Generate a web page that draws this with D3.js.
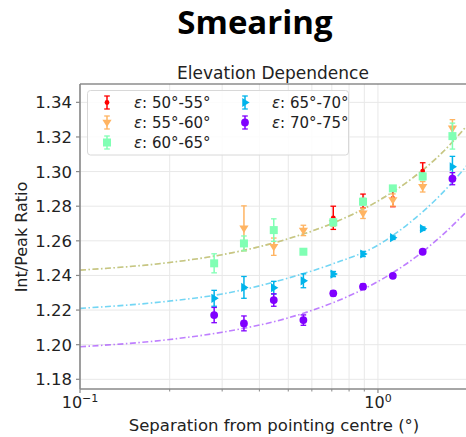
<!DOCTYPE html>
<html lang="en">
<head>
  <meta charset="UTF-8">
  <title>Smearing - Elevation Dependence</title>
  <script src="https://d3js.org/d3.v7.min.js"></script>
  <style>
    body {
      margin: 0;
      padding: 0;
      background: #fff;
    }
    svg {
      display: block;
      font-family: "DejaVu Sans", sans-serif;
    }
    .grid line {
      stroke: #e8e8e8;
      stroke-width: 1;
    }
  </style>
</head>
<body>
  <svg width="466" height="437"></svg>

  <script>
    // separation from pointing centre (deg), one column per bin
    const separation = [0.282, 0.355, 0.447, 0.562, 0.708, 0.891, 1.122, 1.413, 1.778];

    const seriesNames = ["50°-55°", "55°-60°", "60°-65°", "65°-70°", "70°-75°"];
    const seriesColors = ["#ff0000", "#ffb462", "#80ffb4", "#00b4eb", "#8000ff"];
    const seriesMarkers = ["dot", "triDown", "square", "triRight", "circle"];

    // which separation columns each series has
    const seriesCols = [
      [4, 5, 6, 7],
      [1, 2, 3, 4, 5, 6, 7, 8],
      [0, 1, 2, 3, 4, 5, 6, 7, 8],
      [0, 1, 2, 3, 4, 5, 6, 7, 8],
      [0, 1, 2, 3, 4, 5, 6, 7, 8]
    ];

    const ratio50 = [1.2733, 1.2830, 1.2845, 1.3003];
    const ratio55 = [1.2672, 1.2566, 1.2660, 1.2705, 1.2759, 1.2836, 1.2912, 1.3250];
    const ratio60 = [1.2470, 1.2585, 1.2662, 1.2537, 1.2707, 1.2826, 1.2903, 1.2972, 1.3205];
    const ratio65 = [1.2268, 1.2331, 1.2329, 1.2369, 1.2408, 1.2524, 1.2618, 1.2670, 1.3028];
    const ratio70 = [1.2171, 1.2123, 1.2258, 1.2142, 1.2297, 1.2335, 1.2398, 1.2537, 1.2959];

    const err50 = [0.0067, 0.0040, 0.0048, 0.0048];
    const err55 = [0.0130, 0.0050, 0.0030, 0.0020, 0.0030, 0.0035, 0.0030, 0.0050];
    const err60 = [0.0055, 0.0043, 0.0065, 0.0015, 0.0020, 0.0020, 0.0015, 0.0020, 0.0075];
    const err65 = [0.0046, 0.0063, 0.0037, 0.0040, 0.0015, 0.0015, 0.0010, 0.0010, 0.0060];
    const err70 = [0.0044, 0.0043, 0.0036, 0.0030, 0.0015, 0.0015, 0.0010, 0.0010, 0.0035];

    const ratios = [ratio50, ratio55, ratio60, ratio65, ratio70];
    const errors = [err50, err55, err60, err65, err70];

    // fitted curves at these separations
    const fitSep = [0.1, 0.2, 0.3, 0.5, 0.7, 1.0, 1.3, 1.6, 2.0];
    const fit60 = [1.2431, 1.2475, 1.2520, 1.2612, 1.2700, 1.2830, 1.2960, 1.3090, 1.3270];
    const fit65 = [1.2210, 1.2252, 1.2293, 1.2385, 1.2465, 1.2575, 1.2715, 1.2855, 1.3040];
    const fit70 = [1.1988, 1.2030, 1.2072, 1.2155, 1.2240, 1.2365, 1.2490, 1.2615, 1.2775];
    // orange and green fits lie on top of each other
    const fits = [
      { vals: fit60, color: "#80ffb4", opacity: 0.7 },
      { vals: fit60, color: "#e89a50", opacity: 0.6 },
      { vals: fit65, color: "#00b4eb", opacity: 0.55 },
      { vals: fit70, color: "#8000ff", opacity: 0.5 }
    ];

    const yTicks = [1.18, 1.20, 1.22, 1.24, 1.26, 1.28, 1.30, 1.32, 1.34];
    const xMajor = [0.1, 1];
    const xMinor = [0.2, 0.3, 0.4, 0.5, 0.6, 0.7, 0.8, 0.9];
    const xMajorLabels = ["−1", "0"];

    const margin = { left: 80, top: 84, right: -1, bottom: 48 };
    const width = 466, height = 437;

    const svg = d3.select("svg");

    const x = d3.scaleLog()
      .domain([0.1, 1.99])
      .range([margin.left, width - margin.right]);

    const y = d3.scaleLinear()
      .domain([1.1744, 1.3506])
      .range([height - margin.bottom, margin.top]);

    // titles
    svg.append("text")
      .attr("x", 255).attr("y", 34)
      .attr("text-anchor", "middle")
      .style("font-family", "'Open Sans', sans-serif")
      .style("font-weight", "700")
      .style("font-size", "33px")
      .text("Smearing");

    svg.append("text")
      .attr("x", 273).attr("y", 79)
      .attr("text-anchor", "middle")
      .style("font-size", "17px")
      .style("fill", "#222")
      .text("Elevation Dependence");

    // grid
    const grid = svg.append("g").attr("class", "grid");
    grid.selectAll(".gy")
      .data(yTicks)
      .enter().append("line")
      .attr("x1", x.range()[0]).attr("x2", x.range()[1])
      .attr("y1", d => y(d)).attr("y2", d => y(d));
    grid.selectAll(".gx")
      .data(xMajor.concat(xMinor))
      .enter().append("line")
      .attr("x1", d => x(d)).attr("x2", d => x(d))
      .attr("y1", y.range()[0]).attr("y2", y.range()[1]);

    // fitted curves
    const fitLine = d3.line()
      .x((d, i) => x(fitSep[i]))
      .y(d => y(d))
      .curve(d3.curveMonotoneX);

    svg.append("clipPath").attr("id", "plotClip")
      .append("rect")
      .attr("x", x.range()[0]).attr("y", y.range()[1])
      .attr("width", x.range()[1] - x.range()[0])
      .attr("height", y.range()[0] - y.range()[1]);

    svg.append("g")
      .attr("clip-path", "url(#plotClip)")
      .selectAll("path")
      .data(fits)
      .enter().append("path")
      .attr("d", d => fitLine(d.vals))
      .attr("fill", "none")
      .attr("stroke", d => d.color)
      .attr("stroke-opacity", d => d.opacity)
      .attr("stroke-width", 1.6)
      .attr("stroke-dasharray", "6,2.5,1.5,2.5");

    // marker shapes
    function drawMarker(g, kind, color) {
      if (kind === "dot") {
        g.append("circle").attr("r", 2.4).attr("fill", color);
      } else if (kind === "circle") {
        g.append("circle").attr("r", 3.9).attr("fill", color);
      } else if (kind === "square") {
        g.append("rect").attr("x", -4).attr("y", -4)
          .attr("width", 8).attr("height", 8).attr("fill", color);
      } else if (kind === "triDown") {
        const r = 4.6;
        g.append("path").attr("d", `M${-r},${-r * 0.6}L${r},${-r * 0.6}L0,${r}Z`).attr("fill", color);
      } else if (kind === "triRight") {
        const r = 4.6;
        g.append("path").attr("d", `M${-r * 0.6},${-r}L${-r * 0.6},${r}L${r},0Z`).attr("fill", color);
      }
    }

    function drawErrorBar(g, color, half) {
      g.append("line").attr("x1", 0).attr("x2", 0)
        .attr("y1", -half).attr("y2", half)
        .attr("stroke", color).attr("stroke-width", 1.5);
      [-half, half].forEach(v => {
        g.append("line").attr("x1", -2.8).attr("x2", 2.8)
          .attr("y1", v).attr("y2", v)
          .attr("stroke", color).attr("stroke-width", 1.3);
      });
    }

    // data points with error bars
    const pts = svg.append("g");
    seriesNames.forEach((name, s) => {
      const grp = pts.append("g");
      seriesCols[s].forEach((col, i) => {
        const val = ratios[s][i];
        const e = errors[s][i];
        const g = grp.append("g")
          .attr("transform", `translate(${x(separation[col])},${y(val)})`);
        drawErrorBar(g, seriesColors[s], y(val - e) - y(val));
        drawMarker(g, seriesMarkers[s], seriesColors[s]);
      });
    });

    // spines
    svg.append("line")
      .attr("x1", x.range()[0]).attr("x2", x.range()[1])
      .attr("y1", y.range()[1]).attr("y2", y.range()[1])
      .attr("stroke", "#555").attr("stroke-width", 1.2);

    const xAxis = svg.append("g")
      .attr("transform", `translate(0,${y.range()[0]})`);
    xAxis.append("line")
      .attr("x1", x.range()[0]).attr("x2", x.range()[1])
      .attr("stroke", "#888").attr("stroke-width", 1.6);
    xAxis.selectAll(".minor")
      .data(xMinor)
      .enter().append("line")
      .attr("x1", d => x(d)).attr("x2", d => x(d))
      .attr("y1", 0).attr("y2", 2.5)
      .attr("stroke", "#888");
    const xLab = xAxis.selectAll(".major")
      .data(xMajor)
      .enter().append("g")
      .attr("transform", d => `translate(${x(d)},0)`);
    xLab.append("line").attr("y2", 4).attr("stroke", "#888").attr("stroke-width", 1.2);
    const xt = xLab.append("text")
      .attr("y", 19)
      .attr("text-anchor", "middle")
      .style("font-size", "16px")
      .style("fill", "#222");
    xt.append("tspan").text("10");
    xt.append("tspan")
      .attr("dy", -6.5)
      .style("font-size", "11px")
      .text((d, i) => xMajorLabels[i]);

    const yAxis = svg.append("g")
      .attr("transform", `translate(${x.range()[0]},0)`);
    yAxis.append("line")
      .attr("y1", y.range()[0]).attr("y2", y.range()[1])
      .attr("stroke", "#888").attr("stroke-width", 1.6);
    const yt = yAxis.selectAll(".tick")
      .data(yTicks)
      .enter().append("g")
      .attr("transform", d => `translate(0,${y(d)})`);
    yt.append("line").attr("x1", -4).attr("x2", 0).attr("stroke", "#888").attr("stroke-width", 1.2);
    yt.append("text")
      .attr("x", -8).attr("dy", "0.36em")
      .attr("text-anchor", "end")
      .style("font-size", "16.5px")
      .style("fill", "#222")
      .text(d => d3.format(".2f")(d));

    // axis labels
    svg.append("text")
      .attr("x", 274).attr("y", 431)
      .attr("text-anchor", "middle")
      .style("font-size", "16.5px")
      .style("fill", "#222")
      .text("Separation from pointing centre (°)");

    svg.append("text")
      .attr("transform", "translate(27,237) rotate(-90)")
      .attr("text-anchor", "middle")
      .style("font-size", "16px")
      .style("fill", "#222")
      .text("Int/Peak Ratio");

    // legend
    const legend = svg.append("g");
    legend.append("rect")
      .attr("x", 87.5).attr("y", 90.5)
      .attr("width", 261).attr("height", 64.5)
      .attr("rx", 3)
      .attr("fill", "#fff").attr("fill-opacity", 0.85)
      .attr("stroke", "#d8d8d8");

    const legendPos = [
      [107, 102.5], [107, 122.5], [107, 142.5], [245, 102.5], [245, 122.5]
    ];
    seriesNames.forEach((name, s) => {
      const g = legend.append("g")
        .attr("transform", `translate(${legendPos[s][0]},${legendPos[s][1]})`);
      drawErrorBar(g, seriesColors[s], 6.5);
      drawMarker(g, seriesMarkers[s], seriesColors[s]);
      const t = g.append("text")
        .attr("x", 27).attr("dy", "0.36em")
        .style("font-size", "15px")
        .style("fill", "#222");
      t.append("tspan").style("font-style", "italic").text("ε");
      t.append("tspan").text(": " + name);
    });
  </script>
</body>
</html>
